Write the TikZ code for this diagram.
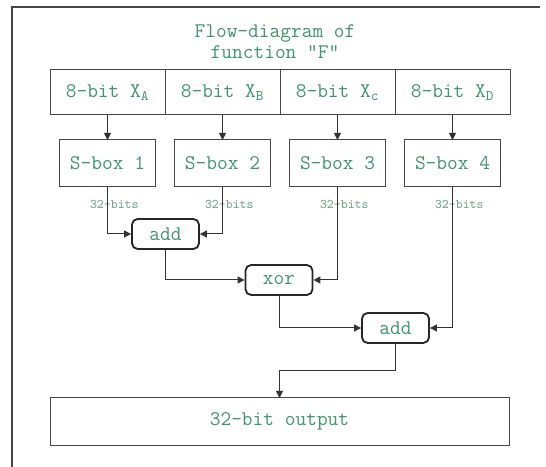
\documentclass[tikz,border=0pt]{standalone}
\usepackage{xcolor}
\usepackage{tikz}
\usetikzlibrary{arrows.meta,positioning,calc}

\definecolor{flowgreen}{RGB}{62,150,108}
\definecolor{bitsgreen}{RGB}{110,165,138}
\definecolor{boxgray}{RGB}{70,70,70}

\begin{document}
\begin{tikzpicture}[
        inbox/.style={draw=boxgray, line width=0.7pt, minimum width=2.875cm, minimum height=1.125cm, inner sep=0pt, outer sep=0pt, text=flowgreen, font=\ttfamily\fontsize{14.8}{17}\selectfont},
        sbox/.style={inbox, minimum width=2.4cm, minimum height=1.175cm},
        opbox/.style={draw=black!85, line width=1.3pt, rounded corners=4pt, minimum width=1.675cm, minimum height=0.75cm, inner sep=0pt, text=flowgreen, font=\ttfamily\fontsize{14.8}{17}\selectfont},
        bits/.style={text=bitsgreen, inner sep=1pt, font=\ttfamily\fontsize{9.4}{11}\selectfont},
        flow/.style={draw=black!80, line width=0.7pt, -{Triangle[length=5pt,width=5pt]}}
    ]
        \useasboundingbox (0,0) rectangle (13.65,11.675);

        % Outer Frame (top and left edge)
        \draw[boxgray, line width=0.8pt] (13.5,11.5) -- (0.3,11.5) -- (0.3,0);

        % Title
        \node[align=center, text=flowgreen, font=\ttfamily\fontsize{14.8}{15}\selectfont] (title) at (6.875,10.64) {Flow-diagram of\\function "F"};

        % Input Fields
        \node[inbox] (xa) at (2.6875,9.3625) {8-bit X\textsubscript{A}};
        \node[inbox, right=0pt of xa] (xb) {8-bit X\textsubscript{B}};
        \node[inbox, right=0pt of xb] (xc) {8-bit X\textsubscript{c}};
        \node[inbox, right=0pt of xc] (xd) {8-bit X\textsubscript{D}};

        % S-boxes
        \node[sbox, below=0.625cm of xa] (s1) {S-box 1};
        \node[sbox, below=0.625cm of xb] (s2) {S-box 2};
        \node[sbox, below=0.625cm of xc] (s3) {S-box 3};
        \node[sbox, below=0.625cm of xd] (s4) {S-box 4};

        % 32-bit Labels
        \node[bits] (b1) at ($(s1.south)+(0.17,-0.425)$) {32-bits};
        \node[bits] (b2) at ($(s2.south)+(0.17,-0.425)$) {32-bits};
        \node[bits] (b3) at ($(s3.south)+(0.17,-0.425)$) {32-bits};
        \node[bits] (b4) at ($(s4.south)+(0.17,-0.425)$) {32-bits};

        % Operations
        \node[opbox] (add1) at (4.1375,5.825) {add};
        \node[opbox] (xor) at (6.975,4.675) {xor};
        \node[opbox] (add2) at (9.8875,3.475) {add};

        % Output Field
        \node[inbox, minimum width=11.475cm, minimum height=1.175cm] (out) at (6.9875,1.1375) {32-bit output};

        % Connectors
        \draw[flow] (xa) -- (s1);
        \draw[flow] (xb) -- (s2);
        \draw[flow] (xc) -- (s3);
        \draw[flow] (xd) -- (s4);
        \draw[flow] (s1.south) |- (add1.west);
        \draw[flow] (s2.south) |- (add1.east);
        \draw[flow] (add1.south) |- (xor.west);
        \draw[flow] (s3.south) |- (xor.east);
        \draw[flow] (xor.south) |- (add2.west);
        \draw[flow] (s4.south) |- (add2.east);
        \draw[flow] (add2.south) -- ++(0,-0.675) -| (out.north);
    \end{tikzpicture}
\end{document}
